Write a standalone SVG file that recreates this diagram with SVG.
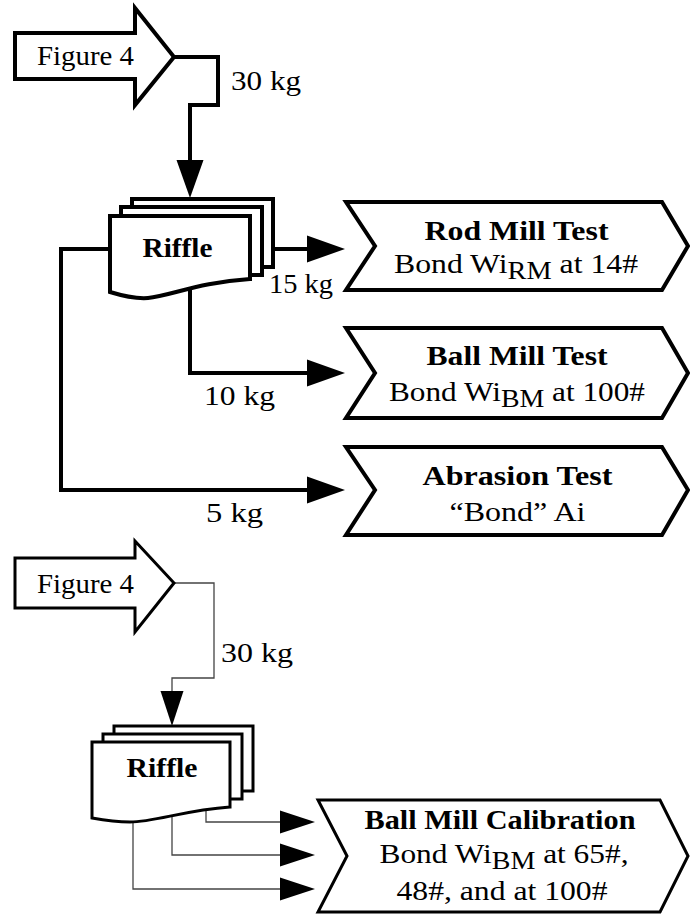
<svg xmlns="http://www.w3.org/2000/svg" width="690" height="915" viewBox="0 0 690 915" font-family="'Liberation Serif', 'Times New Roman', serif">
<style>
.t{font-size:28px;fill:#000}
.b{font-weight:bold}
.thick{fill:#fff;stroke:#000;stroke-width:4;stroke-linejoin:miter}
.med{fill:#fff;stroke:#000;stroke-width:3;stroke-linejoin:miter}
.c1{fill:none;stroke:#000;stroke-width:4;stroke-linejoin:miter}
.c2{fill:none;stroke:#444;stroke-width:1.3}
.s{font-size:25px}
</style>
<defs>
<marker id="aT" markerUnits="userSpaceOnUse" markerWidth="40" markerHeight="28" refX="0" refY="13.5" orient="auto" overflow="visible"><path d="M0,0 L38,13.5 L0,27 Z" fill="#000"/></marker>
<marker id="aB" markerUnits="userSpaceOnUse" markerWidth="36" markerHeight="24" refX="0" refY="11.5" orient="auto" overflow="visible"><path d="M0,0 L35,11.5 L0,23 Z" fill="#000"/></marker>
</defs>
<g id="connectors">
<path class="c1" d="M174,57 H218 V105 H190 V160" marker-end="url(#aT)"/>
<path class="c1" d="M273,249 H307" marker-end="url(#aT)"/>
<path class="c1" d="M190,290 V373 H307" marker-end="url(#aT)"/>
<path class="c1" d="M110,249 H61 V490 H307" marker-end="url(#aT)"/>
<path class="c2" d="M174,583 H214 V678 H172 V691" marker-end="url(#aB)"/>
<path class="c2" d="M206,810 V822 H280" marker-end="url(#aB)"/>
<path class="c2" d="M172,816 V855 H280" marker-end="url(#aB)"/>
<path class="c2" d="M133,823 V889 H280" marker-end="url(#aB)"/>
</g>
<g id="fig4-top">
<polygon class="thick" stroke-width="5" points="15,33 135,33 135,8 174,57 135,105 135,79 15,79"/>
<text class="t" x="37" y="65" textLength="97" lengthAdjust="spacingAndGlyphs">Figure 4</text>
</g>
<text class="t" x="231" y="90" textLength="70" lengthAdjust="spacingAndGlyphs">30 kg</text>
<g id="riffle-top">
<rect class="thick" x="132" y="199" width="141" height="68"/>
<rect class="thick" x="121" y="207" width="141" height="68"/>
<path class="thick" d="M110,216 H250 V279 C200,282 170,296 148,298 C135,299 123,296 110,292 Z"/>
<text class="t b" x="177.5" y="257" text-anchor="middle" textLength="70" lengthAdjust="spacingAndGlyphs">Riffle</text>
</g>
<text class="t" x="269" y="293" textLength="64" lengthAdjust="spacingAndGlyphs">15 kg</text>
<text class="t" x="204" y="405" textLength="71" lengthAdjust="spacingAndGlyphs">10 kg</text>
<text class="t" x="206" y="522" textLength="57" lengthAdjust="spacingAndGlyphs">5 kg</text>
<g id="rod-mill">
<polygon class="thick" points="346,202 662,202 688,246 662,290 346,290 375,246"/>
<text class="t b" x="516.5" y="240" text-anchor="middle" textLength="184" lengthAdjust="spacingAndGlyphs">Rod Mill Test</text>
<text class="t" x="516" y="273" text-anchor="middle" textLength="244" lengthAdjust="spacingAndGlyphs">Bond Wi<tspan class="s" dy="6">RM</tspan><tspan dy="-6"> at 14#</tspan></text>
</g>
<g id="ball-mill">
<polygon class="thick" points="346,328 662,328 688,373 662,418 346,418 375,373"/>
<text class="t b" x="517" y="365" text-anchor="middle" textLength="181" lengthAdjust="spacingAndGlyphs">Ball Mill Test</text>
<text class="t" x="517" y="401" text-anchor="middle" textLength="256" lengthAdjust="spacingAndGlyphs">Bond Wi<tspan class="s" dy="6">BM</tspan><tspan dy="-6"> at 100#</tspan></text>
</g>
<g id="abrasion">
<polygon class="thick" points="346,447 662,447 688,490 662,535 346,535 375,490"/>
<text class="t b" x="517.5" y="485" text-anchor="middle" textLength="190" lengthAdjust="spacingAndGlyphs">Abrasion Test</text>
<text class="t" x="517.5" y="521" text-anchor="middle" textLength="136" lengthAdjust="spacingAndGlyphs">“Bond” Ai</text>
</g>
<g id="fig4-bottom">
<polygon class="med" points="15,558 135,558 135,541 174,583 135,632 135,608 15,608"/>
<text class="t" x="37" y="593" textLength="97" lengthAdjust="spacingAndGlyphs">Figure 4</text>
</g>
<text class="t" x="221" y="662" textLength="72" lengthAdjust="spacingAndGlyphs">30 kg</text>
<g id="riffle-bottom">
<rect class="med" x="114" y="726" width="139" height="65"/>
<rect class="med" x="103" y="734" width="139" height="65"/>
<path class="med" d="M92,742 H230 V807 C185,810 155,822 130,822 C115,822 103,820 92,818 Z"/>
<text class="t b" x="162" y="777" text-anchor="middle" textLength="71" lengthAdjust="spacingAndGlyphs">Riffle</text>
</g>
<g id="calibration">
<polygon class="med" points="318,800 660,800 688,856 660,912 318,912 347,856"/>
<text class="t b" x="500" y="829" text-anchor="middle" textLength="271" lengthAdjust="spacingAndGlyphs">Ball Mill Calibration</text>
<text class="t" x="504" y="863" text-anchor="middle" textLength="249" lengthAdjust="spacingAndGlyphs">Bond Wi<tspan class="s" dy="6">BM</tspan><tspan dy="-6"> at 65#,</tspan></text>
<text class="t" x="502" y="900" text-anchor="middle" textLength="211" lengthAdjust="spacingAndGlyphs">48#, and at 100#</text>
</g>
</svg>
